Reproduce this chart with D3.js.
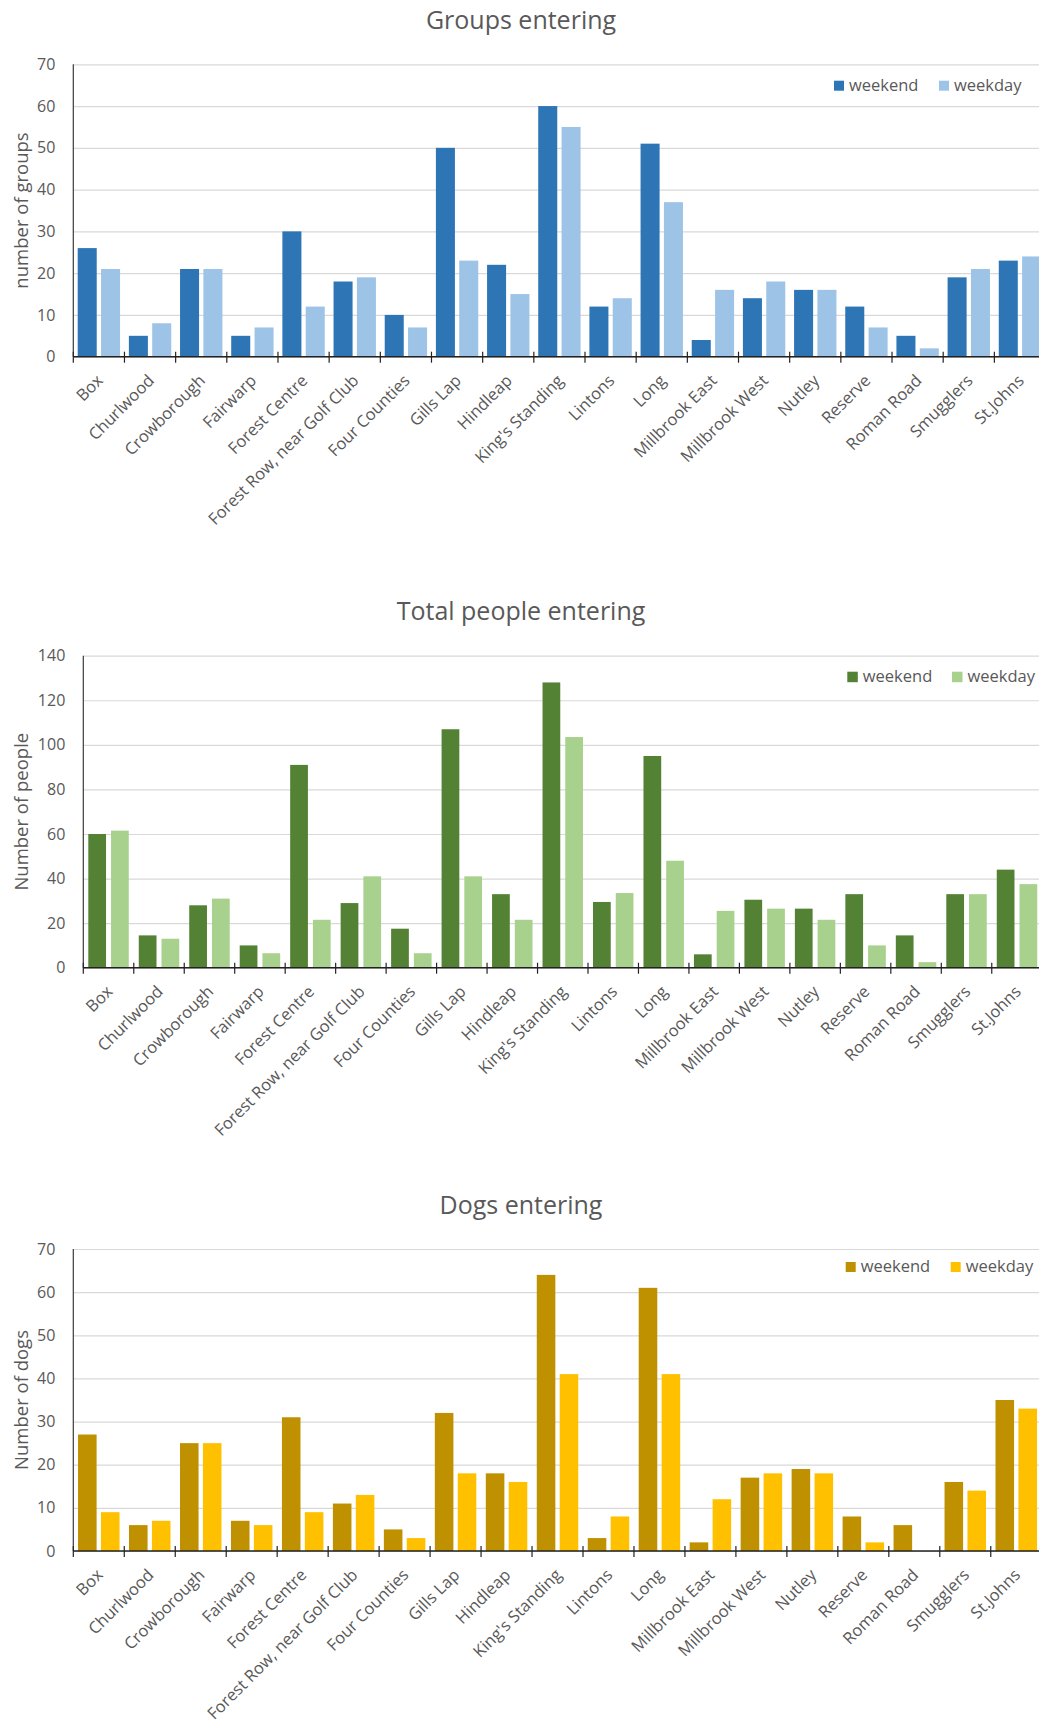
<!DOCTYPE html>
<html><head><meta charset="utf-8">
<script src="https://cdn.jsdelivr.net/npm/d3@7"></script>
<style>
html,body{margin:0;padding:0;background:#fff;}
svg{display:block;}
text{font-family:"Open Sans",sans-serif;fill:#595959;}
</style></head><body>
<svg id="chart" width="1039" height="1727"></svg>
<script>
const categories = ["Box","Churlwood","Crowborough","Fairwarp","Forest Centre","Forest Row, near Golf Club","Four Counties","Gills Lap","Hindleap","King's Standing","Lintons","Long","Millbrook East","Millbrook West","Nutley","Reserve","Roman Road","Smugglers","St.Johns"];
const seriesNames = ["weekend","weekday"];

const groupsWeekend = [26,5,21,5,30,18,10,50,22,60,12,51,4,14,16,12,5,19,23];
const groupsWeekday = [21,8,21,7,12,19,7,23,15,55,14,37,16,18,16,7,2,21,24];
const groupsTicks = [0,10,20,30,40,50,60,70];

const peopleWeekend = [60,14.5,28,10,91,29,17.5,107,33,128,29.5,95,6,30.5,26.5,33,14.5,33,44];
const peopleWeekday = [61.5,13,31,6.5,21.5,41,6.5,41,21.5,103.5,33.5,48,25.5,26.5,21.5,10,2.5,33,37.5];
const peopleTicks = [0,20,40,60,80,100,120,140];

const dogsWeekend = [27,6,25,7,31,11,5,32,18,64,3,61,2,17,19,8,6,16,35];
const dogsWeekday = [9,7,25,6,9,13,3,18,16,41,8,41,12,18,18,2,0,14,33];
const dogsTicks = [0,10,20,30,40,50,60,70];

const charts = [
  {title:"Groups entering", yLabel:"number of groups", a:groupsWeekend, b:groupsWeekday, ticks:groupsTicks,
   left:73.3, top:64.3, bottom:356.7, step:51.17, pOut:0.172, pIn:0.185,
   colors:["#2e75b6","#9dc3e6"], legX:834, legY:80.7, sq:10, legGap:105},
  {title:"Total people entering", yLabel:"Number of people", a:peopleWeekend, b:peopleWeekday, ticks:peopleTicks,
   left:83.3, top:655.7, bottom:967.7, step:50.47, pOut:0.198, pIn:0.22,
   colors:["#548235","#a9d18e"], legX:847.3, legY:671.7, sq:10.5, legGap:104.7},
  {title:"Dogs entering", yLabel:"Number of dogs", a:dogsWeekend, b:dogsWeekday, ticks:dogsTicks,
   left:73.3, top:1249, bottom:1551, step:50.97, pOut:0.186, pIn:0.19,
   colors:["#bf9000","#ffc000"], legX:845.7, legY:1262, sq:10, legGap:105}
];

const svg = d3.select("#chart");

charts.forEach(c => {
  const g = svg.append("g");
  const right = c.left + categories.length * c.step;
  const x0 = d3.scaleBand().domain(categories).range([c.left, right])
    .paddingInner(c.pOut).paddingOuter(c.pOut/2);
  const x1 = d3.scaleBand().domain(seriesNames).range([0, x0.bandwidth()]).paddingInner(c.pIn);
  const y = d3.scaleLinear().domain([0, d3.max(c.ticks)]).range([c.bottom, c.top]);

  // gridlines
  g.append("g").attr("transform", `translate(${c.left},0)`)
    .call(d3.axisLeft(y).tickValues(c.ticks).tickSize(-(right - c.left)).tickFormat(""))
    .call(s => s.select(".domain").remove())
    .call(s => s.selectAll("line").attr("stroke", "#d9d9d9").attr("stroke-width", 1.2));

  // y tick labels
  g.append("g").attr("transform", `translate(${c.left - 18},0)`)
    .call(d3.axisLeft(y).tickValues(c.ticks).tickSize(0).tickPadding(0))
    .call(s => s.select(".domain").remove())
    .call(s => s.selectAll("text").attr("fill", "#595959").style("font-size", "16px")
      .style("font-family", '"Open Sans",sans-serif'));

  // bars
  const rows = categories.map((cat, i) => ({cat, vals:[c.a[i], c.b[i]]}));
  g.append("g").selectAll("g").data(rows).join("g")
    .attr("transform", d => `translate(${x0(d.cat)},0)`)
    .selectAll("rect").data(d => d.vals.map((v, k) => ({k, v})))
    .join("rect")
    .attr("x", d => x1(seriesNames[d.k]))
    .attr("width", x1.bandwidth())
    .attr("y", d => y(d.v))
    .attr("height", d => y(0) - y(d.v))
    .attr("fill", d => c.colors[d.k]);

  // y axis line
  g.append("line").attr("x1", c.left).attr("x2", c.left).attr("y1", c.top).attr("y2", c.bottom)
    .attr("stroke", "#3a3a3a").attr("stroke-width", 1.2);
  // x axis line
  g.append("line").attr("x1", c.left).attr("x2", right).attr("y1", y(0)).attr("y2", y(0))
    .attr("stroke", "#222").attr("stroke-width", 1.6);
  // boundary ticks
  const bounds = d3.range(categories.length + 1).map(i => c.left + i * x0.step());
  g.append("g").selectAll("line").data(bounds).join("line")
    .attr("x1", d => d).attr("x2", d => d)
    .attr("y1", y(0) - 5).attr("y2", y(0) + 6)
    .attr("stroke", "#222").attr("stroke-width", 1.2);

  // x labels
  g.append("g").selectAll("text").data(categories).join("text")
    .attr("transform", d => `translate(${x0(d) + x0.bandwidth()/2 + 5},${y(0) + 25}) rotate(-45)`)
    .attr("text-anchor", "end")
    .style("font-size", "16.5px")
    .text(d => d);

  // title
  g.append("text").attr("x", 521).attr("y", c.top - 35.5).attr("text-anchor", "middle")
    .style("font-size", "25px").text(c.title);

  // y axis title
  g.append("text")
    .attr("transform", `translate(28,${(c.top + c.bottom)/2}) rotate(-90)`)
    .attr("text-anchor", "middle").style("font-size", "18.5px").text(c.yLabel);

  // legend
  const leg = g.append("g");
  seriesNames.forEach((name, k) => {
    const lx = c.legX + k * c.legGap;
    leg.append("rect").attr("x", lx).attr("y", c.legY).attr("width", c.sq).attr("height", c.sq)
      .attr("fill", c.colors[k]);
    leg.append("text").attr("x", lx + c.sq + 5).attr("y", c.legY + c.sq).style("font-size", "16.5px").text(name);
  });
});
</script>
</body></html>
